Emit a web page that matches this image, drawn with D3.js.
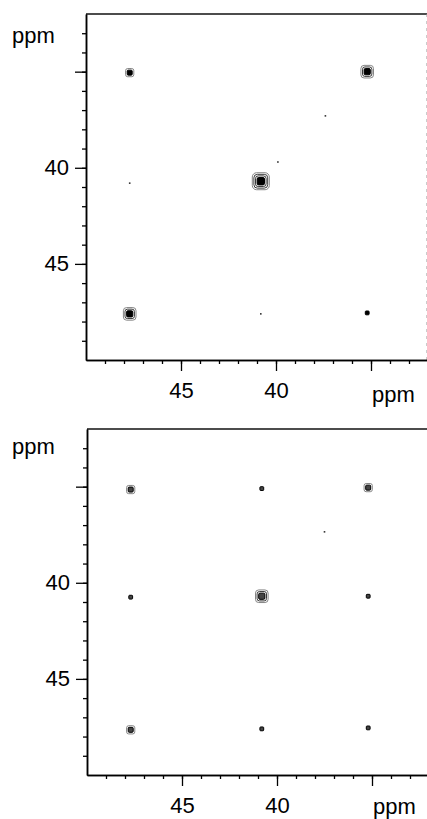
<!DOCTYPE html>
<html>
<head>
<meta charset="utf-8">
<script src="https://cdn.jsdelivr.net/npm/d3@7/dist/d3.min.js"></script>
<style>
  body { margin: 0; background: #fff; }
  svg { display: block; }
  .lbl { font-family: "Liberation Sans", Arial, sans-serif; font-size: 22px; fill: #000; }
</style>
</head>
<body>
<svg id="chart" width="427" height="819"></svg>
<script>
// axis ticks (ppm)
let minorTicks = d3.range(33, 50, 1);
let majorTicks = [35, 40, 45];
let labelTicks = [40, 45];

// top spectrum peaks: f2 (horizontal), f1 (vertical), contour levels
let topF2 = [47.7, 35.2, 37.4, 39.9, 40.8, 47.7, 47.7, 40.8, 35.2];
let topF1 = [35.05, 35.0, 37.3, 39.7, 40.7, 40.8, 47.6, 47.6, 47.55];
let topLevel = [2, 3, 0, 0, 4, 0, 3, 0, 1];

// bottom spectrum peaks
let botF2 = [47.7, 40.8, 35.2, 37.5, 47.7, 40.8, 35.2, 47.7, 40.8, 35.2];
let botF1 = [35.15, 35.1, 35.05, 37.35, 40.75, 40.7, 40.7, 47.65, 47.6, 47.55];
let botLevel = [2, 1, 2, 0, 1, 3, 1, 2, 1, 1];

let svg = d3.select('#chart');

function draw_panel(x0, x1, y0, y1, f2, f1, level, filled, ppmTop, ppmBottom) {
    let x = d3.scaleLinear().domain([50, 32]).range([x0, x1]);
    let y = d3.scaleLinear().domain([32, 50]).range([y0, y1]);
    let g = svg.append('g');

    // frame top + right (scanned, lighter)
    g.append('line')
        .attr('x1', x0).attr('x2', x1).attr('y1', y0).attr('y2', y0)
        .attr('stroke', '#111').attr('stroke-width', 1.3);
    g.append('line')
        .attr('x1', x1 - 1).attr('x2', x1 - 1).attr('y1', y0).attr('y2', y1)
        .attr('stroke', '#999').attr('stroke-width', 1).attr('stroke-dasharray', '3,4');

    // left axis: minor then major
    let yMinor = g.append('g')
        .attr('transform', `translate(${x0},0)`)
        .call(d3.axisLeft(y).tickValues(minorTicks).tickSize(4).tickSizeOuter(0).tickFormat(''));
    let yMajor = g.append('g')
        .attr('transform', `translate(${x0},0)`)
        .call(d3.axisLeft(y).tickValues(majorTicks).tickSize(11).tickSizeOuter(0).tickPadding(6)
            .tickFormat(d => labelTicks.includes(d) ? d : ''));

    // bottom axis
    let xMinor = g.append('g')
        .attr('transform', `translate(0,${y1})`)
        .call(d3.axisBottom(x).tickValues(minorTicks).tickSize(4).tickSizeOuter(0).tickFormat(''));
    let xMajor = g.append('g')
        .attr('transform', `translate(0,${y1})`)
        .call(d3.axisBottom(x).tickValues(majorTicks).tickSize(11).tickSizeOuter(0).tickPadding(11)
            .tickFormat(d => labelTicks.includes(d) ? d : ''));

    [yMinor, yMajor, xMinor, xMajor].forEach(a => {
        a.attr('font-size', null).attr('font-family', null);
        a.selectAll('path').attr('stroke', '#000').attr('stroke-width', 1.5);
        a.selectAll('line').attr('stroke', '#000').attr('stroke-width', 1.3);
        a.selectAll('text').attr('class', 'lbl');
    });

    // axis unit labels
    g.append('text').attr('class', 'lbl')
        .attr('x', 12).attr('y', y0 + ppmTop)
        .text('ppm');
    g.append('text').attr('class', 'lbl')
        .attr('x', x(35) + 1).attr('y', y1 + ppmBottom)
        .text('ppm');

    // cross peaks as little contour rings
    let peaks = f2.map((d, i) => ({ f2: d, f1: f1[i], lv: level[i] }));
    peaks.forEach(p => {
        let cx = x(p.f2), cy = y(p.f1);
        if (p.lv == 0) {
            g.append('rect')
                .attr('x', cx - 0.8).attr('y', cy - 0.8)
                .attr('width', 1.6).attr('height', 1.6)
                .attr('fill', '#333');
            return;
        }
        // innermost blob
        let s = 1.3 + p.lv * 0.6;
        g.append('rect')
            .attr('x', cx - s).attr('y', cy - s)
            .attr('width', 2 * s).attr('height', 2 * s)
            .attr('rx', s * 0.4)
            .attr('fill', filled ? '#000' : '#444')
            .attr('stroke', '#000').attr('stroke-width', 1);
        for (let i = 1; i < p.lv; i++) {
            let r = s + i * 1.6;
            g.append('rect')
                .attr('x', cx - r).attr('y', cy - r)
                .attr('width', 2 * r).attr('height', 2 * r)
                .attr('rx', r * 0.5)
                .attr('fill', 'none')
                .attr('stroke', i == p.lv - 1 ? '#777' : '#222')
                .attr('stroke-width', 0.9);
        }
    });
}

draw_panel(86, 428, 14, 360, topF2, topF1, topLevel, true, 29, 42);
draw_panel(87, 429, 429, 775, botF2, botF1, botLevel, false, 25, 39);
</script>
</body>
</html>
